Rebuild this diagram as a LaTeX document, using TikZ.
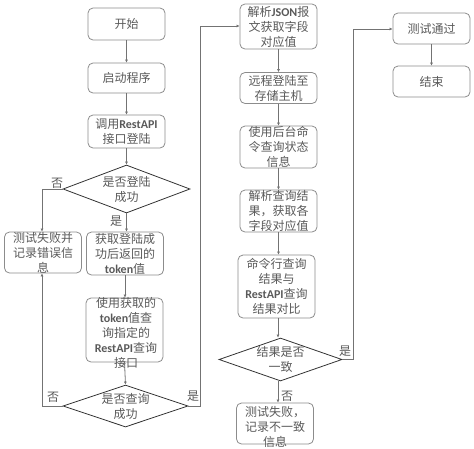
\documentclass[tikz,border=0pt]{standalone}
\usepackage{fontspec}
\setmainfont{Noto Sans CJK SC}
\newfontfamily\latf{Carlito}
\newcommand\la[1]{{\latf\bfseries #1}}
\usetikzlibrary{shapes.geometric,arrows.meta}
\begin{document}
\begin{tikzpicture}[x=1pt,y=-1pt,
  font=\fontsize{12}{15}\selectfont,
  every node/.style={text=black!65, inner sep=0pt},
  box/.style={draw=black!45, rounded corners=5pt, line width=0.8pt, minimum width=77pt, align=center},
  dia/.style={draw=black!80, diamond, line width=0.8pt, aspect=2.6, align=center},
  dtext/.style={align=center},
  lbl/.style={text=black!65},
  conn/.style={draw=black!55, line width=0.8pt, -{Latex[length=3pt,width=3pt]}},
  line/.style={draw=black!55, line width=0.8pt}]
\useasboundingbox (0,0) rectangle (474,448);
% left column
\node[box, minimum height=32pt] (start) at (126.5,24) {开始};
\node[box, minimum height=30pt] (boot) at (126.5,78) {启动程序};
\node[box, minimum height=33pt] (call) at (126.5,131.5) {调用\la{RestAPI}\\接口登陆};
\node[dia, minimum width=127pt, minimum height=48pt] (d1) at (126.5,189) {};
\node[dtext] at (d1) {是否登陆\\成功};
\node[box, minimum height=41pt] (fail1) at (43,252.5) {测试失败并\\记录错误信\\息};
\node[box, minimum height=43pt] (tok) at (125,253.5) {获取登陆成\\功后返回的\\\la{token}值};
\node[box, minimum height=64pt, minimum width=77pt] (qry) at (124.5,330) {};
\node[dtext, font=\fontsize{12}{14.8}\selectfont] at (126,333) {使用获取的\\\la{token}值查\\询指定的\\\la{RestAPI}查询\\接口};
\node[dia, minimum width=125pt, minimum height=42pt] (d2) at (125.5,406) {};
\node[dtext] at (d2) {是否查询\\成功};
% middle column
\node[box, minimum height=45pt] (json) at (278.5,26.5) {解析\la{JSON}报\\文获取字段\\对应值};
\node[box, minimum height=31pt] (rem) at (278.5,88) {远程登陆至\\存储主机};
\node[box, minimum height=42pt] (cmd) at (278.5,147) {使用后台命\\令查询状态\\信息};
\node[box, minimum height=42pt] (parse) at (278.5,211) {解析查询结\\果，获取各\\字段对应值};
\node[box, minimum height=63pt] (cmp) at (276.5,286.5) {命令行查询\\结果与\\\la{RestAPI}查询\\结果对比};
\node[dia, minimum width=123pt, minimum height=43pt] (d3) at (280.5,359.5) {};
\node[dtext] at (d3) {结果是否\\一致};
\node[box, minimum height=41pt] (fail2) at (275,423.5) {};
\node[dtext] at (275,427) {测试失败，\\记录不一致\\信息};
% right column
\node[box, minimum height=31pt] (pass) at (431.5,28.5) {测试通过};
\node[box, minimum height=31pt] (end) at (431.5,81.5) {结束};
% connectors
\draw[conn] (start) -- (boot);
\draw[conn] (boot) -- (call);
\draw[conn] (call) -- (d1);
\draw[conn] (d1.south) -- (d1.south |- tok.north);
\node[lbl] at (116,221) {是};
\coordinate (c1) at (42,189);
\draw[conn] (d1.west) -- (c1) -- (c1 |- fail1.north);
\node[lbl] at (57,183) {否};
\draw[conn] (tok) -- (tok.south |- qry.north);
\draw[conn] (qry.south |- 0,362) -- (d2.north);
\coordinate (c2) at (42,406);
\draw[conn] (d2.west) -- (c2) -- (c2 |- fail1.south);
\node[lbl] at (53,397) {否};
\coordinate (c3) at (200,406);
\coordinate (c4) at (200,26);
\draw[conn] (d2.east) -- (c3) -- (c4) -- (c4 -| json.west);
\node[lbl] at (193,396) {是};
\draw[conn] (json) -- (rem);
\draw[conn] (rem) -- (cmd);
\draw[conn] (cmd) -- (parse);
\draw[conn] (parse.south) -- (parse.south |- cmp.north);
\draw[conn] (cmp.south -| 278,0) -- (d3.north -| 278,0);
\draw[conn] (d3.south -| 278,0) -- (fail2.north -| 278,0);
\node[lbl] at (287,396) {否};
\coordinate (c5) at (353,359.5);
\coordinate (c6) at (353,29);
\draw[conn] (d3.east) -- (c5) -- (c6) -- (c6 -| pass.west);
\node[lbl] at (345,351) {是};
\draw[conn] (pass) -- (end);
\end{tikzpicture}
\end{document}
